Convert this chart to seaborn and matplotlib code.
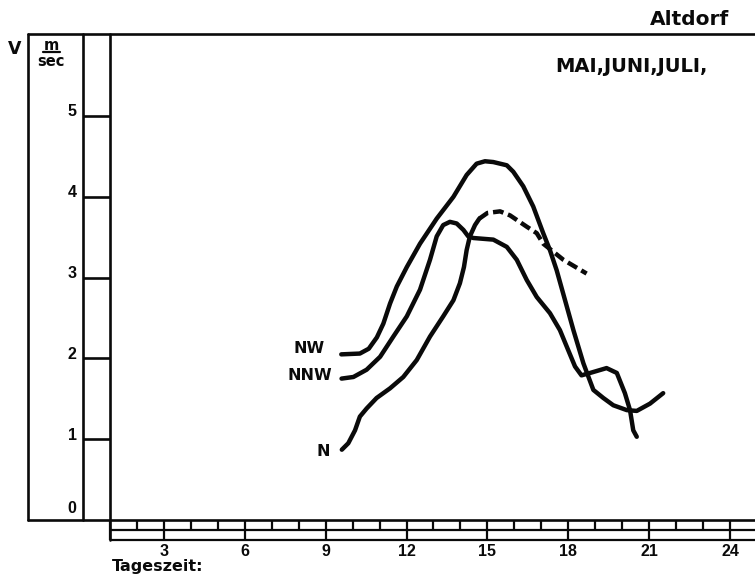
import matplotlib
matplotlib.use("Agg")
import matplotlib.pyplot as plt
from matplotlib.lines import Line2D
import pandas as pd
import seaborn as sns

# Mean wind speed (m/s) over the day, May-July, by wind direction
hours_nw = [9.58, 10.27, 10.60, 10.90, 11.14, 11.39, 11.64, 12.01, 12.50, 13.12,
            13.74, 14.23, 14.60, 14.91, 15.22, 15.72, 15.96, 16.33, 16.70, 17.07,
            17.32, 17.57, 18.19, 18.56, 18.75, 18.93, 19.30, 19.67, 20.17, 20.54,
            21.03, 21.52]
speed_nw = [2.05, 2.06, 2.12, 2.26, 2.43, 2.68, 2.89, 3.13, 3.42, 3.73,
            4.00, 4.27, 4.41, 4.44, 4.43, 4.39, 4.31, 4.13, 3.88, 3.55,
            3.34, 3.09, 2.35, 1.94, 1.77, 1.61, 1.51, 1.42, 1.36, 1.35,
            1.44, 1.57]

hours_nnw = [9.59, 10.03, 10.52, 11.02, 11.51, 12.01, 12.50, 12.87, 13.12, 13.36,
             13.61, 13.86, 14.11, 14.29, 14.48, 14.85, 15.22, 15.72, 16.09, 16.46,
             16.83, 17.32, 17.69, 18.00, 18.25, 18.49, 18.81, 19.42, 19.80, 20.10,
             20.29, 20.41, 20.54]
speed_nnw = [1.75, 1.77, 1.86, 2.02, 2.27, 2.52, 2.85, 3.22, 3.51, 3.65,
             3.69, 3.67, 3.59, 3.51, 3.49, 3.48, 3.47, 3.38, 3.22, 2.97,
             2.76, 2.56, 2.35, 2.10, 1.90, 1.79, 1.82, 1.88, 1.82, 1.57,
             1.36, 1.11, 1.03]

hours_n = [9.60, 9.84, 10.09, 10.27, 10.52, 10.89, 11.39, 11.88, 12.38, 12.87,
           13.36, 13.74, 13.98, 14.13, 14.23, 14.35, 14.54, 14.70]
speed_n = [0.87, 0.95, 1.11, 1.28, 1.38, 1.51, 1.63, 1.77, 1.98, 2.27,
           2.52, 2.72, 2.93, 3.13, 3.34, 3.51, 3.65, 3.73]

# continuation of N with fewer observations (dashed)
hours_n_dashed = [14.70, 15.00, 15.47, 15.84, 16.46, 16.83, 17.07, 17.82, 18.68]
speed_n_dashed = [3.73, 3.80, 3.82, 3.77, 3.63, 3.55, 3.42, 3.22, 3.05]

directions = ["NW", "NNW", "N"]
hour_ticks = [3, 6, 9, 12, 15, 18, 21, 24]
speed_ticks = [0, 1, 2, 3, 4, 5]
station = "Altdorf"
months = "MAI,JUNI,JULI,"
time_label = "Tageszeit:"

sns.set_theme(style="white")
plt.rcParams["font.family"] = ["DejaVu Sans"]

W, H = 755, 578
fig = plt.figure(figsize=(W / 100, H / 100), dpi=100)
ax = fig.add_axes([0, 0, 1, 1])

# scale: hour 0 at x=83 px, 0 m/s at y=520 px
PX_H = 26.96
PX_V = 80.8
X0, Y0 = 83, 520
ax.set_xlim(-X0 / PX_H, (W - X0) / PX_H)
ax.set_ylim(-(H - Y0) / PX_V, Y0 / PX_V)
ax.set_axis_off()


def hx(px):
    return (px - X0) / PX_H


def vy(py):
    return (Y0 - py) / PX_V


ink = "#0a0a0a"
frame_lw = 1.9
left_edge, top_edge, right_edge = hx(28), vy(34), ax.get_xlim()[1]

# outer frame and the speed column
ax.plot([left_edge, right_edge], [top_edge, top_edge], color=ink, lw=frame_lw)
ax.plot([left_edge, right_edge], [0, 0], color=ink, lw=frame_lw)
ax.plot([left_edge, left_edge], [0, top_edge], color=ink, lw=frame_lw)
ax.plot([0, 0], [0, top_edge], color=ink, lw=frame_lw)
strip_mid, strip_bot = vy(529.5), vy(540)
ax.plot([1, 1], [strip_bot, top_edge], color=ink, lw=frame_lw)
ax.hlines([v for v in speed_ticks if v > 0], 0, 1, color=ink, lw=frame_lw)

for v in speed_ticks:
    ax.annotate(str(v), (0, v), xytext=(-4.5, 8 if v == 0 else 3),
                textcoords="offset points", ha="right", va="center",
                fontsize=11.5, fontweight="bold", family="Liberation Sans",
                color=ink)

# hour strip along the time axis
ax.hlines([strip_mid, strip_bot], 1, right_edge, color=ink, lw=1.6)
ax.vlines(range(1, 25), strip_mid, 0, color=ink, lw=1.6)
ax.vlines([1] + hour_ticks, strip_bot, strip_mid, color=ink, lw=1.6)
for h in hour_ticks:
    ax.text(h, vy(551), str(h), ha="center", va="center", fontsize=11.5,
            fontweight="bold", family="Liberation Sans", color=ink)
ax.text(hx(112), vy(566), time_label, ha="left", va="center", fontsize=11.5,
        fontweight="bold", color=ink)

# curves
frames = [
    pd.DataFrame({"Stunde": hrs, "V": spd, "Richtung": name})
    for name, hrs, spd in zip(directions,
                              [hours_nw, hours_nnw, hours_n],
                              [speed_nw, speed_nnw, speed_n])
]
df = pd.concat(frames, ignore_index=True)
sns.lineplot(data=df, x="Stunde", y="V", units="Richtung", estimator=None,
             sort=False, color=ink, lw=3.2, solid_capstyle="round",
             solid_joinstyle="round", legend=False, ax=ax)
sns.lineplot(x=hours_n_dashed, y=speed_n_dashed, estimator=None, sort=False,
             color=ink, lw=3.2, linestyle=(0, (2.4, 1.1)),
             dash_capstyle="butt", legend=False, ax=ax)
ax.set_xlabel("")
ax.set_ylabel("")

# direction labels at the start of each curve
label_offsets = {"NW": (-12, 4.5), "NNW": (-6.5, 2), "N": (-8.5, -1.5)}
for name, hrs, spd in zip(directions, [hours_nw, hours_nnw, hours_n],
                          [speed_nw, speed_nnw, speed_n]):
    ax.annotate(name, (hrs[0], spd[0]), xytext=label_offsets[name],
                textcoords="offset points", ha="right", va="center",
                fontsize=11.5, fontweight="bold", color=ink)

# unit label of the speed axis
fig.text(15 / W, 1 - 49 / H, "V", ha="center", va="center", fontsize=12.5,
         fontweight="bold", color=ink)
fig.text(51 / W, 1 - 46 / H, "m", ha="center", va="center", fontsize=10.5,
         fontweight="bold", color=ink)
fig.add_artist(Line2D([43 / W, 60 / W], [1 - 52 / H, 1 - 52 / H],
                      transform=fig.transFigure, color=ink, lw=1.6))
fig.text(50.5 / W, 1 - 61.5 / H, "sec", ha="center", va="center",
         fontsize=10.5, fontweight="bold", color=ink)

# station and months
fig.text(729 / W, 1 - 25 / H, station, ha="right", va="baseline",
         fontsize=14.5, fontweight="bold", color=ink)
fig.text(555 / W, 1 - 72 / H, months, ha="left", va="baseline",
         fontsize=14, fontweight="bold", color=ink)

fig.savefig("out.png", dpi=100, facecolor="white")
